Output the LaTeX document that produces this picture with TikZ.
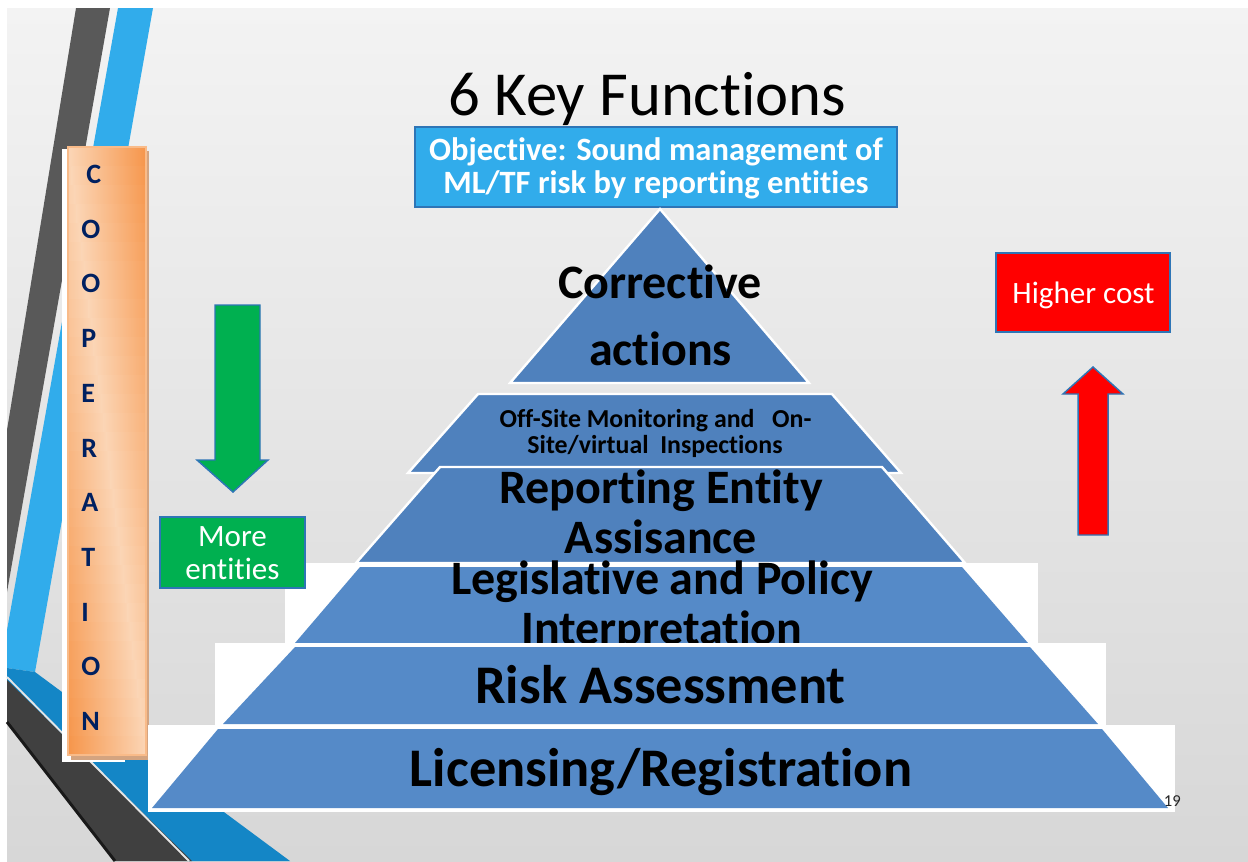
\documentclass[tikz,border=0pt]{standalone}
\usepackage{fontspec}
\setmainfont{Carlito}[Ligatures={NoCommon,NoContextual}, RawFeature={-liga;-clig;-dlig}]
\newcommand\zk{\kern0pt\relax}
\definecolor{bgtop}{RGB}{243,243,243}
\definecolor{bgbot}{RGB}{215,215,215}
\definecolor{stripedark}{RGB}{89,89,89}
\definecolor{stripeblue}{RGB}{49,172,235}
\definecolor{banddark}{RGB}{64,64,64}
\definecolor{bandblue}{RGB}{20,134,198}
\definecolor{peach}{RGB}{251,213,181}
\definecolor{orng}{RGB}{246,148,72}
\definecolor{shadowtan}{RGB}{212,164,128}
\definecolor{navy}{RGB}{0,32,96}
\definecolor{objblue}{RGB}{49,172,235}
\definecolor{edgeblue}{RGB}{46,117,182}
\definecolor{pyrdark}{RGB}{79,129,189}
\definecolor{pyrlight}{RGB}{85,138,200}
\definecolor{grn}{RGB}{0,176,80}
\tikzset{
  coop/.style={font=\fontsize{21}{21}\selectfont\bfseries, text=navy, inner sep=0, anchor=base west},
  objtext/.style={font=\fontsize{24.4}{25}\selectfont\bfseries, text=white, inner sep=0, anchor=base},
  bigtext/.style={font=\fontsize{36}{36}\selectfont\bfseries, text=black, inner sep=0, anchor=base},
  hugetext/.style={font=\fontsize{40.8}{41}\selectfont\bfseries, text=black, inner sep=0, anchor=base},
  smalltext/.style={font=\fontsize{19.4}{20}\selectfont\bfseries, text=black, inner sep=0, anchor=base},
  labeltext/.style={font=\fontsize{23.3}{24}\selectfont, text=white, inner sep=0, anchor=base},
  layerdark/.style={fill=pyrdark, draw=white, line width=1.8},
  layerlight/.style={fill=pyrlight},
  backing/.style={fill=white},
  arrowshape/.style={draw=edgeblue, line width=1.1, line join=miter},
}
\begin{document}
\begin{tikzpicture}[x=0.75pt,y=-0.75pt]
\useasboundingbox (0,0) rectangle (1248,861);
% slide background
\fill[white] (0,0) rectangle (1248,861);
\shade[top color=bgtop,bottom color=bgbot] (7,8) rectangle (1248,861);
% decorative stripes
\fill[stripedark] (76,8) -- (110,8) -- (7,592) -- (7,430) -- cycle;
\fill[stripeblue] (118,8) -- (153,8) -- (35,672) -- (7,668) -- (7,630) -- cycle;
\fill[bandblue] (7,668) -- (35,672) -- (290,861) -- (188,861) -- (7,684) -- cycle;
\fill[banddark] (7,680) -- (192,861) -- (115,861) -- (7,722) -- cycle;
\draw[white!80!gray, line width=1.4] (7,677) -- (189,861);
\draw[black!90, line width=2.2] (7,722) -- (115,861);
% COOPERATION panel
\fill[white] (62,149) rectangle (125,762);
\fill[shadowtan] (71,151) rectangle (149,760);
\begin{scope}
\clip (68,147) rectangle (146,755);
\foreach \i in {0,...,31}{
  \pgfmathsetmacro{\ya}{147+19*\i}
  \pgfmathsetmacro{\yb}{\ya+19.7}
  \pgfmathsetmacro{\tt}{(\i+0.5)/32}
  \pgfmathsetmacro{\xc}{68+78*\tt}
  \pgfmathsetmacro{\xd}{\xc+0.6}
  \pgfmathsetmacro{\pl}{100*\tt}
  \pgfmathsetmacro{\pr}{100*(1-\tt)}
  \shade[left color=orng!\pl!peach, right color=peach] (67,\ya) rectangle (\xd,\yb);
  \shade[left color=peach, right color=orng!\pr!peach] (\xc,\ya) rectangle (147,\yb);
}
\end{scope}
\draw[peach!60!orng, line width=0.8] (68,147) rectangle (146,755);
\foreach \ch/\yy/\xx [count=\k] in {C/183/86, O/238/81, O/292/81, P/347/81, E/402/81, R/457/81, A/511/81, T/566/81, I/621/81, O/675/81, N/730/81}
  \node[coop] (coop\k) at (\xx,\yy) {\ch};
% title
\node[anchor=base, font=\fontsize{47}{47}\selectfont, inner sep=0] (title) at (647.5,115) {6 Key Funct\zk ions};
% objective box
\draw[fill=objblue, draw=edgeblue, line width=0.9] (415,127) rectangle (897,207);
\node[objtext] (obj1) at (656,160) {Object\zk ive: Sound management of};
\node[objtext] (obj2) at (656,193) {ML/TF risk by report\zk ing ent\zk it\zk ies};
% pyramid
\draw[layerdark] (660,209) -- (809,383) -- (510,383) -- cycle;
\node[bigtext] (corr1) at (660,298) {Correct\zk ive};
\node[bigtext] (corr2) at (660.5,365) {act\zk ions};
\draw[layerdark] (478,394) -- (832,394) -- (901,473) -- (408,473) -- cycle;
\node[smalltext] (mon1) at (655.5,427) {Of\zk f-Site Monit\zk oring and\ \ \ On-};
\node[smalltext] (mon2) at (655,453) {Site/virtual\ \ Inspect\zk ions};
\draw[layerdark] (440,467) -- (882,467) -- (965,563) -- (356,563) -- cycle;
\node[bigtext] (rep1) at (661,503) {Report\zk ing Ent\zk ity};
\node[bigtext] (rep2) at (661,553) {Assisance};
\fill[backing] (285,563) rectangle (1038,643);
\fill[layerlight] (360,567) -- (962,567) -- (1028,643) -- (295,643) -- cycle;
\node[bigtext] (leg1) at (662,594) {Legislat\zk ive and Policy};
\node[bigtext] (leg2) at (662,644) {Interpretat\zk ion};
\fill[backing] (215,643) rectangle (1106,725);
\fill[layerlight] (295,647) -- (1030,647) -- (1098,724) -- (223,724) -- cycle;
\node[hugetext] (risk) at (660.5,703) {Risk Assessment};
\fill[backing] (148,725) rectangle (1175,812);
\fill[layerlight] (218,729) -- (1102,729) -- (1168,808) -- (152,808) -- cycle;
\node[hugetext] (lic) at (661,786) {Licensing/Registrat\zk ion};
% page number
\node[anchor=base east, font=\fontsize{12.5}{13}\selectfont, text=black!85, inner sep=0] (pagenum) at (1181,806) {19};
% green arrow and label
\draw[arrowshape, fill=grn] (215,305) -- (260,305) -- (260,460) -- (268,460) -- (233,492) -- (197,460) -- (215,460) -- cycle;
\draw[fill=grn, draw=edgeblue, line width=1.1] (160,517) rectangle (305,588);
\node[labeltext] (more1) at (232.5,546) {More};
\node[labeltext] (more2) at (232.5,579) {ent\zk it\zk ies};
% red box and arrow
\draw[fill=red, draw=edgeblue, line width=1.1] (996,253) rectangle (1170,332);
\node[labeltext] (cost) at (1083.5,303) {Higher cost};
\draw[arrowshape, fill=red] (1078,535) -- (1108,535) -- (1108,394) -- (1123,394) -- (1093,367) -- (1063,394) -- (1078,394) -- cycle;
\end{tikzpicture}
\end{document}
